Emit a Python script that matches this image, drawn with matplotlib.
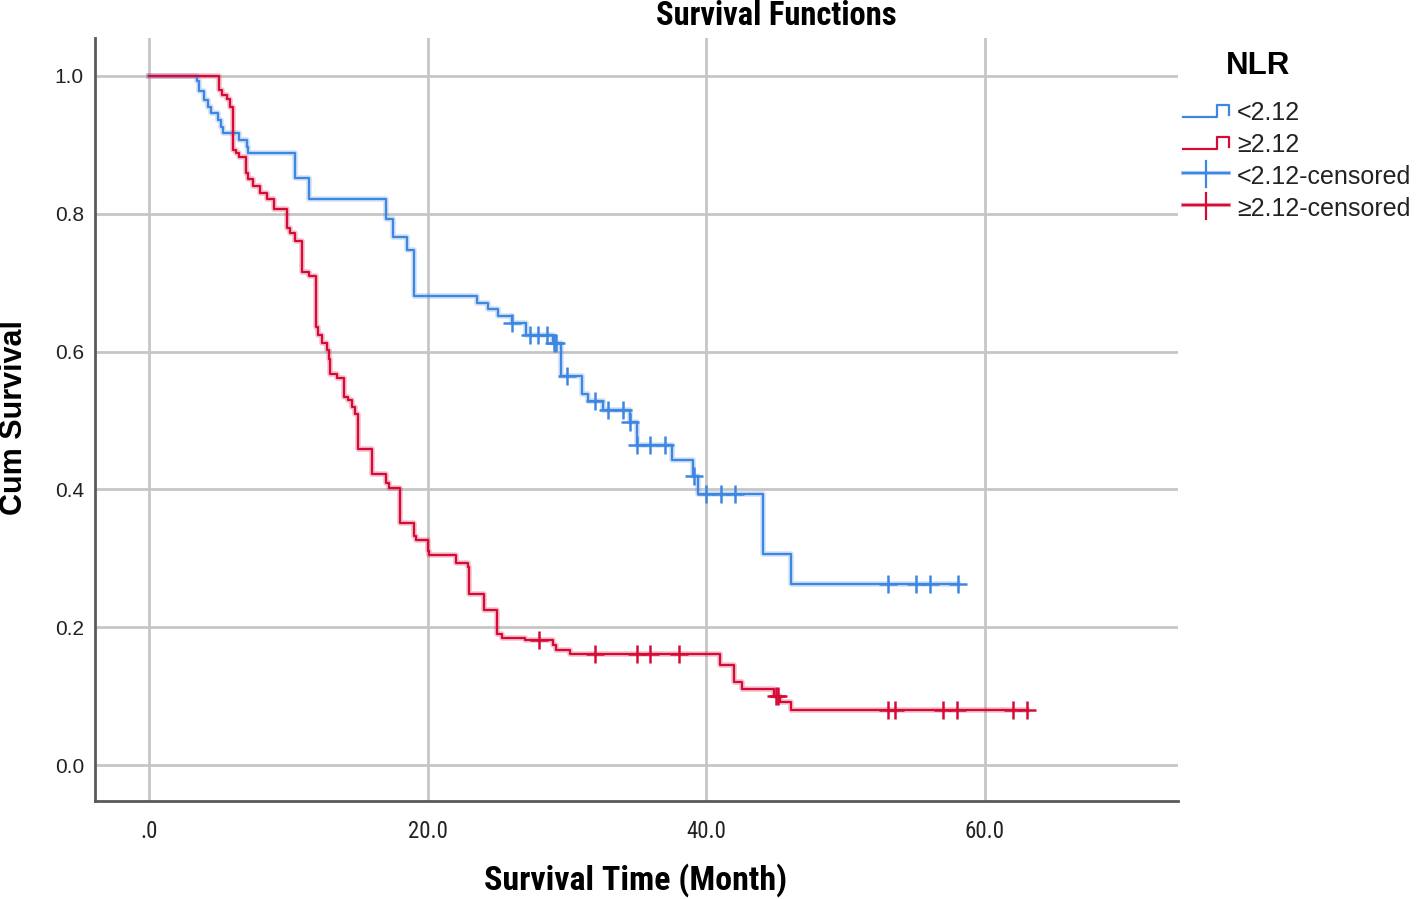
import matplotlib
matplotlib.use("Agg")
import matplotlib.pyplot as plt
from matplotlib import font_manager
from matplotlib.lines import Line2D
import numpy as np

# Kaplan-Meier steps (time in months, survival after the drop)
low_times = [3.42, 3.61, 3.97, 4.26, 4.45, 4.98, 5.14, 5.29, 6.49, 7.01, 7.13,
             10.48, 11.48, 17.01, 17.54, 18.5, 19.02, 23.52, 24.36, 25.05, 26.03,
             27.06, 29.03, 29.55, 31.06, 31.54, 32.57, 34.53, 35.01, 37.52, 39.05,
             39.38, 44.05, 46.09]
low_surv = [0.993, 0.978, 0.965, 0.955, 0.946, 0.936, 0.926, 0.917, 0.907, 0.897,
            0.888, 0.852, 0.822, 0.793, 0.767, 0.747, 0.681, 0.671, 0.662, 0.652,
            0.642, 0.624, 0.613, 0.565, 0.539, 0.529, 0.515, 0.498, 0.465, 0.443,
            0.419, 0.394, 0.306, 0.263]
low_censored = [26.05, 27.35, 27.95, 28.55, 29.05, 29.2, 29.98, 32.02, 32.98, 34.0,
                34.55, 35.05, 35.97, 37.04, 39.15, 39.99, 41.04, 42.07, 53.07, 55.06,
                56.07, 58.1]

high_times = [5.03, 5.22, 5.62, 5.81, 6.01, 6.25, 6.49, 6.96, 7.13, 7.49, 7.97, 8.49,
              9.0, 9.93, 10.12, 10.48, 11.0, 11.51, 11.99, 12.16, 12.4, 12.76, 12.95,
              13.0, 13.52, 13.98, 14.3, 14.55, 14.79, 14.98, 16.0, 16.99, 17.23, 18.02,
              19.02, 19.2, 20.0, 20.1, 22.04, 22.93, 23.0, 24.05, 25.0, 25.32, 26.99,
              28.98, 29.2, 30.22, 41.0, 42.02, 42.55, 44.9, 45.3, 46.06]
high_surv = [0.979, 0.973, 0.966, 0.955, 0.893, 0.888, 0.882, 0.859, 0.850, 0.840,
             0.830, 0.822, 0.807, 0.779, 0.772, 0.761, 0.716, 0.710, 0.636, 0.624,
             0.613, 0.602, 0.590, 0.568, 0.561, 0.534, 0.530, 0.520, 0.510, 0.459,
             0.423, 0.409, 0.402, 0.351, 0.332, 0.327, 0.310, 0.305, 0.294, 0.287,
             0.248, 0.225, 0.190, 0.185, 0.181, 0.174, 0.167, 0.161, 0.145, 0.120,
             0.110, 0.101, 0.092, 0.080]
high_censored = [28.0, 32.02, 35.01, 35.97, 38.08, 45.0, 45.15, 53.07, 53.55, 57.02,
                 58.03, 62.0, 63.05]

group_labels = ["<2.12", "\u22652.12", "<2.12-censored", "\u22652.12-censored"]
x_ticks = [0, 20, 40, 60]
x_tick_labels = [".0", "20.0", "40.0", "60.0"]
y_ticks = [0.0, 0.2, 0.4, 0.6, 0.8, 1.0]

BLUE = "#3d86e2"
RED = "#d60a36"
GRID = "#c6c6c6"
SPINE = "#5a5a5a"


def pick_family(names):
    for name in names:
        try:
            font_manager.findfont(name, fallback_to_default=False)
            return name
        except ValueError:
            continue
    return "DejaVu Sans"


REG = pick_family(["Liberation Sans", "Arimo", "DejaVu Sans"])
NARROW = pick_family(["Liberation Sans Narrow", "Roboto Condensed", REG])
plt.rcParams["font.family"] = [REG, "DejaVu Sans"]


def step_curve(times, surv, end):
    t = np.concatenate([[0.0], np.asarray(times), [end]])
    s = np.concatenate([[1.0], np.asarray(surv), [surv[-1]]])
    return t, s


def surv_at(times, surv, t):
    times = np.asarray(times)
    idx = np.searchsorted(times, t, side="right") - 1
    return 1.0 if idx < 0 else surv[idx]


W, H = 1416, 899
fig = plt.figure(figsize=(W / 100, H / 100), dpi=100)
ax = fig.add_axes([95 / W, 1 - 801 / H, (1178 - 95) / W, (801 - 38) / H])

ax.set_xlim(-3.88, 73.87)
ax.set_ylim(-0.052, 1.055)

for groups in [(low_times, low_surv, low_censored, BLUE),
               (high_times, high_surv, high_censored, RED)]:
    times, surv, cens, color = groups
    t, s = step_curve(times, surv, max(cens))
    ax.step(t, s, where="post", color=color, lw=4, alpha=0.25, zorder=3)
    ax.step(t, s, where="post", color=color, lw=1.6, zorder=4)
    cy = [surv_at(times, surv, c) for c in cens]
    ax.plot(cens, cy, ls="none", marker="+", ms=13, mew=1.8, color=color, zorder=5)

ax.set_xticks(x_ticks)
ax.set_xticklabels(x_tick_labels, fontfamily=NARROW, fontsize=16.5)
ax.set_yticks(y_ticks)
ax.set_yticklabels([f"{v:.1f}" for v in y_ticks], fontsize=15)
ax.tick_params(length=0, colors="#222222")
ax.tick_params(axis="y", pad=8)
ax.tick_params(axis="x", pad=14)
ax.grid(True, color=GRID, lw=2, zorder=1)
ax.set_axisbelow(True)

for side in ["top", "right"]:
    ax.spines[side].set_visible(False)
for side in ["left", "bottom"]:
    ax.spines[side].set_color(SPINE)
    ax.spines[side].set_linewidth(2)

fig.text(776 / W, 1 - 25 / H, "Survival Functions", ha="center", va="baseline",
         fontsize=23.5, fontweight="bold", fontfamily=NARROW)
fig.text(636 / W, 1 - 880 / H, "Survival Time (Month)", ha="center", va="center",
         fontsize=24.5, fontweight="bold", fontfamily=NARROW)
fig.text(14 / W, 1 - 418 / H, "Cum Survival", ha="center", va="center",
         rotation=90, fontsize=22, fontweight="bold")

# legend drawn by hand in pixel positions to get the SPSS-style icons
fig.text(1258 / W, 1 - 66 / H, "NLR", ha="center", va="center",
         fontsize=22.5, fontweight="bold")


def fig_line(xs, ys, color, lw=1.6, alpha=1.0):
    fig.add_artist(Line2D([x / W for x in xs], [1 - y / H for y in ys],
                          color=color, lw=lw, alpha=alpha,
                          transform=fig.transFigure))


legend_rows = [113, 145, 177, 209]
legend_colors = [BLUE, RED, BLUE, RED]
for i, (row, color, label) in enumerate(zip(legend_rows, legend_colors, group_labels)):
    if i < 2:
        fig_line([1183, 1216.5, 1216.5, 1229, 1229],
                 [row + 4, row + 4, row - 8, row - 8, row + 2], color)
    else:
        fig_line([1183, 1229], [row - 4, row - 4], color, lw=3, alpha=0.4)
        fig_line([1183, 1229], [row - 4, row - 4], color)
        fig_line([1206, 1206], [row - 16, row + 10], color, lw=1.6)
    fig.text(1237 / W, 1 - row / H, label, ha="left", va="center", fontsize=18,
             color="#222222")

fig.savefig("out.png", dpi=100)
